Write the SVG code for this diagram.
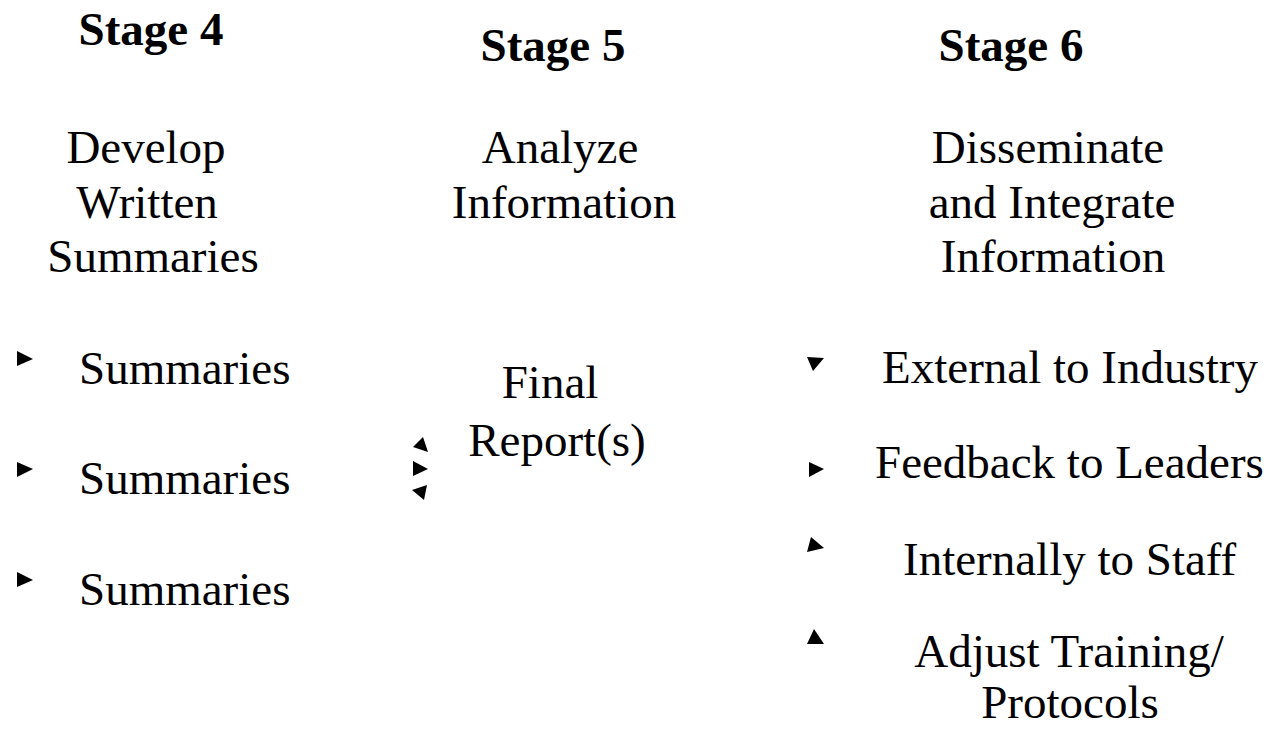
<svg xmlns="http://www.w3.org/2000/svg" width="1268" height="736" viewBox="0 0 1268 736">
<style>
text{font-family:"Liberation Serif","Times New Roman",serif;font-size:47px;fill:#000}
.h{font-weight:bold}
.c{text-anchor:middle}
.tri{fill:#000}
</style>
<rect width="1268" height="736" fill="#fff"/>
<g id="stage4">
<text class="h c" x="151" y="45">Stage 4</text>
<text class="c" x="146" y="163">Develop</text>
<text class="c" x="147" y="218">Written</text>
<text class="c" x="153" y="272">Summaries</text>
</g>
<g id="stage4-items">
<polygon class="tri" points="17,351 17,366 33,359"/>
<text x="79" y="384">Summaries</text>
<polygon class="tri" points="17,462 17,477 33,469"/>
<text x="79" y="494">Summaries</text>
<polygon class="tri" points="17,572 17,587 33,580"/>
<text x="79" y="605">Summaries</text>
</g>
<g id="stage5">
<text class="h c" x="553" y="61">Stage 5</text>
<text class="c" x="560" y="163">Analyze</text>
<text class="c" x="564" y="218">Information</text>
</g>
<g id="stage5-items">
<text class="c" x="550" y="398">Final</text>
<text class="c" x="557" y="456">Report(s)</text>
<polygon class="tri" points="423,437 413,447 428,452"/>
<polygon class="tri" points="413,461 413,476 428,469"/>
<polygon class="tri" points="412,490 427,485 424,500"/>
</g>
<g id="stage6">
<text class="h c" x="1011" y="61">Stage 6</text>
<text class="c" x="1048" y="163">Disseminate</text>
<text class="c" x="1052" y="218">and Integrate</text>
<text class="c" x="1053" y="272">Information</text>
</g>
<g id="stage6-items">
<polygon class="tri" points="807,357 824,358 813,371"/>
<text x="882" y="383">External to Industry</text>
<polygon class="tri" points="809,462 809,477 824,469"/>
<text x="875" y="478">Feedback to Leaders</text>
<polygon class="tri" points="811,537 824,548 807,552"/>
<text x="903" y="575">Internally to Staff</text>
<polygon class="tri" points="814,629 807,644 824,644"/>
<text class="c" x="1069" y="667">Adjust Training/</text>
<text class="c" x="1070" y="718">Protocols</text>
</g>
</svg>
